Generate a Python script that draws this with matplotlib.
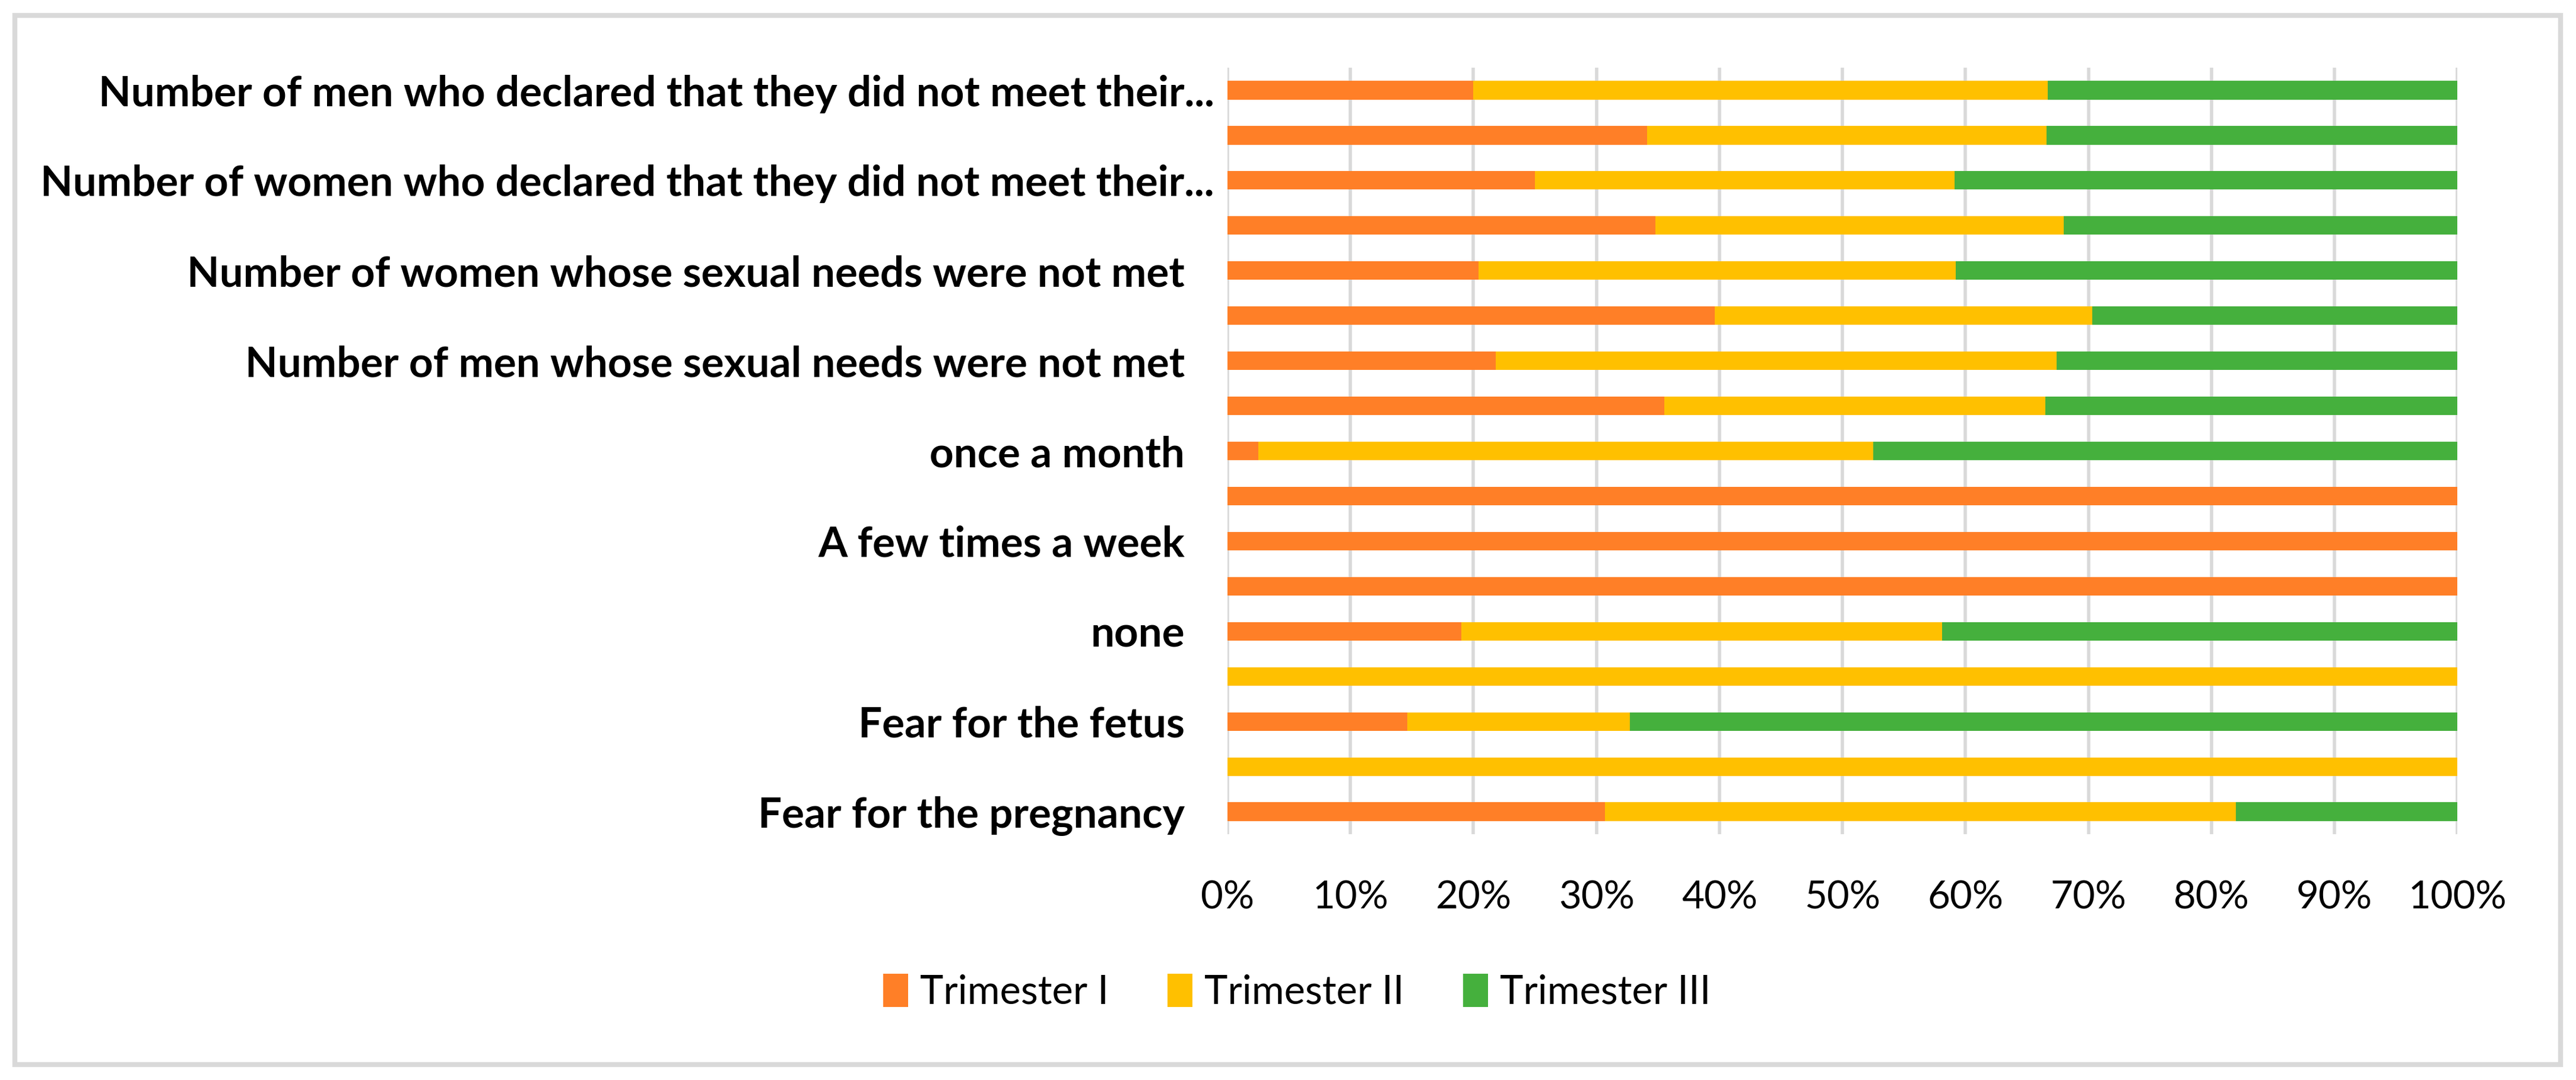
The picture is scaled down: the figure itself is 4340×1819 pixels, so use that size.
import numpy as np
import matplotlib
matplotlib.use('Agg')
import matplotlib.pyplot as plt
from matplotlib.patches import Rectangle
from matplotlib.ticker import PercentFormatter
from matplotlib.transforms import ScaledTranslation

plt.rcParams['font.family'] = ['Lato', 'DejaVu Sans']

# rows from top to bottom; unnamed rows had their labels hidden by Excel
labels = [
    'Number of men who declared that they did not meet their...',
    '',
    'Number of women who declared that they did not meet their...',
    '',
    'Number of women whose sexual needs were not met',
    '',
    'Number of men whose sexual needs were not met',
    '',
    'once a month',
    '',
    'A few times a week',
    '',
    'none',
    '',
    'Fear for the fetus',
    '',
    'Fear for the pregnancy',
]

# shares in percent
trim1 = [20.0, 34.1, 25.0, 34.8, 20.4, 39.6, 21.8, 35.5, 2.5, 100, 100, 100, 19.0, 0, 14.6, 0, 30.7]
trim2 = [46.7, 32.5, 34.1, 33.2, 38.8, 30.7, 45.6, 31.0, 50.0, 0, 0, 0, 39.1, 100, 18.1, 100, 51.3]
trim3 = [33.3, 33.4, 40.9, 32.0, 40.8, 29.7, 32.6, 33.5, 47.5, 0, 0, 0, 41.9, 0, 67.3, 0, 18.0]

series = ['Trimester I', 'Trimester II', 'Trimester III']
colors = ['#FF7F27', '#FFC000', '#45B03D']

fig = plt.figure(figsize=(43.40, 18.19), dpi=100)
ax = fig.add_axes([0.4765, 0.2276, 0.4775, 0.7097])

y = np.arange(len(labels))
left = np.zeros(len(labels))
for vals, name, col in zip([trim1, trim2, trim3], series, colors):
    vals = np.array(vals, dtype=float)
    ax.barh(y, vals, left=left, height=0.41, color=col, label=name, zorder=3)
    left += vals

ax.set_xlim(0, 100)
ax.set_ylim(len(labels) - 0.5, -0.5)
ax.set_xticks(np.arange(0, 101, 10))
ax.xaxis.set_major_formatter(PercentFormatter(decimals=0))
ax.set_yticks(y)
ax.set_yticklabels(labels, fontweight='bold', fontsize=51)
ax.tick_params(axis='y', length=0, pad=52)
ax.tick_params(axis='x', length=0, pad=56, labelsize=47)
ax.grid(axis='x', color='#D9D9D9', linewidth=4, zorder=0)
for s in ax.spines.values():
    s.set_visible(False)

# truncated labels sit a bit closer to the axis
for t in ax.get_yticklabels():
    if t.get_text().endswith('...'):
        t.set_transform(t.get_transform() + ScaledTranslation(0.5, 0, fig.dpi_scale_trans))

fig.legend(loc='center', bbox_to_anchor=(0.5035, 0.081), ncol=3, frameon=False,
           fontsize=48, handlelength=0.62, handleheight=0.9, handletextpad=0.3,
           columnspacing=1.5)

fig.patches.append(Rectangle((25 / 4340, 26 / 1819), 4289 / 4340, 1767 / 1819,
                             transform=fig.transFigure, fill=False,
                             edgecolor='#D9D9D9', linewidth=6))

fig.savefig('out.png', dpi=100, facecolor='white')
